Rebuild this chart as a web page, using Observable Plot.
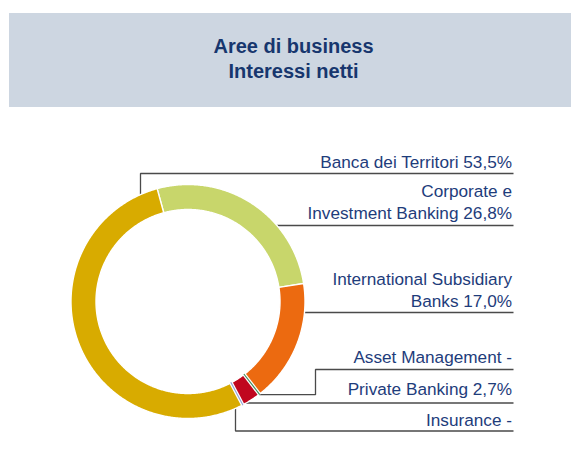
<!DOCTYPE html>
<html>
<head>
<meta charset="utf-8">
<script src="https://cdn.jsdelivr.net/npm/d3@7"></script>
<script src="https://cdn.jsdelivr.net/npm/@observablehq/plot@0.6"></script>
<style>
  html, body { margin: 0; padding: 0; background: #ffffff; }
  #title {
    margin: 13px 0 0 9px;
    height: 94px;
    box-sizing: border-box;
    padding: 20.5px 0 0 7px;
    background: #cdd6e1;
    color: #17366e;
    font: bold 20px "Liberation Sans", Arial, sans-serif;
    line-height: 25px;
    text-align: center;
  }
  #chart svg { display: block; }
</style>
</head>
<body>
<div id="title"><div>Aree di business</div><div>Interessi netti</div></div>
<div id="chart"></div>
<script>
// ---- data (clockwise order, starting with Corporate) ----
const categories = [
  "Corporate e Investment Banking",
  "International Subsidiary Banks",
  "Asset Management",
  "Private Banking",
  "Insurance",
  "Banca dei Territori"
];
const shares = [26.8, 17.0, 0, 2.7, 0, 53.5];
const labelTexts = [
  "Corporate e\nInvestment Banking 26,8%",
  "International Subsidiary\nBanks 17,0%",
  "Asset Management -",
  "Private Banking 2,7%",
  "Insurance -",
  "Banca dei Territori 53,5%"
];
const palette = ["#c8d66b", "#ec6a10", "#3f8a58", "#c0061e", "#8fa2d6", "#d8ab00"];

// ---- layout ----
const W = 571, H = 354;
const cx = 187.5, cy = 194, R = 117, r = 92;
const startDeg = -15.3;
const labelRight = 511.5, lineRight = 513;
// per label: baseline y, leader row y, leader style
const layout = [
  {base: 111, row: 118, kind: "right"},
  {base: 199, row: 205, kind: "right"},
  {base: 255.5, row: 262, kind: "elbow", elbowX: 315},
  {base: 287.5, row: 295.5, kind: "right"},
  {base: 318, row: 323.5, kind: "down", ax: 235},
  {base: 60.5, row: 66, kind: "up", ax: 140}
];

const rad = d => d * Math.PI / 180;
const pt = (deg, rho) => [cx + rho * Math.sin(rad(deg)), cy - rho * Math.cos(rad(deg))];

// cumulative angles
const total = d3.sum(shares);
let acc = startDeg;
const slices = categories.map((c, i) => {
  const a0 = acc, a1 = acc + shares[i] / total * 360;
  acc = a1;
  return {category: c, a0, a1, value: shares[i]};
});

// polygon points for non-zero slices
const poly = [];
slices.filter(s => s.value > 0).forEach(s => {
  const n = Math.max(2, Math.ceil((s.a1 - s.a0) / 0.5));
  for (let k = 0; k <= n; k++) {
    const a = s.a0 + (s.a1 - s.a0) * k / n;
    const [x, y] = pt(a, R);
    poly.push({category: s.category, x, y});
  }
  for (let k = n; k >= 0; k--) {
    const a = s.a0 + (s.a1 - s.a0) * k / n;
    const [x, y] = pt(a, r);
    poly.push({category: s.category, x, y});
  }
});

// zero-width slices drawn as radial strokes
const zeroLines = slices.filter(s => s.value === 0).map(s => {
  const [x1, y1] = pt(s.a0, r - 0.5), [x2, y2] = pt(s.a0, R + 0.5);
  return {category: s.category, x1, y1, x2, y2};
});

// leader lines
const leaders = [];
slices.forEach((s, i) => {
  const L = layout[i];
  let pts;
  if (L.kind === "right") {
    const dx = Math.sqrt(Math.max(0, R * R - (L.row - cy) ** 2));
    pts = [[cx + dx - 2, L.row], [lineRight, L.row]];
  } else if (L.kind === "elbow") {
    const [ax, ay] = pt(s.a0, R);
    pts = [[ax, ay + 0.5], [L.elbowX, ay + 0.5], [L.elbowX, L.row], [lineRight, L.row]];
  } else if (L.kind === "down") {
    const ay = cy + Math.sqrt(R * R - (L.ax - cx) ** 2);
    pts = [[L.ax, ay - 2], [L.ax, L.row], [lineRight, L.row]];
  } else {
    const ay = cy - Math.sqrt(R * R - (L.ax - cx) ** 2);
    pts = [[L.ax, ay + 2], [L.ax, L.row], [lineRight, L.row]];
  }
  pts.forEach(([x, y]) => leaders.push({category: s.category, x, y}));
});

const labels = slices.map((s, i) => ({category: s.category, text: labelTexts[i], x: labelRight, y: layout[i].base}));

const font = '"Liberation Sans", Arial, sans-serif';

const chart = Plot.plot({
  width: W,
  height: H,
  margin: 0,
  style: {fontFamily: font, background: "#ffffff"},
  x: {domain: [0, W], range: [0, W], axis: null},
  y: {domain: [0, H], range: [0, H], axis: null},
  color: {domain: categories, range: palette},
  marks: [
    Plot.line(leaders, {x: "x", y: "y", z: "category", stroke: "#4a4a4a", strokeWidth: 1.3, strokeLinejoin: "miter", strokeLinecap: "butt"}),
    Plot.line(poly, {x: "x", y: "y", z: "category", fill: "category", stroke: "#ffffff", strokeWidth: 1.4, curve: "linear-closed"}),
    Plot.link(zeroLines, {x1: "x1", y1: "y1", x2: "x2", y2: "y2", stroke: "#ffffff", strokeWidth: 3.6}),
    Plot.link(zeroLines, {x1: "x1", y1: "y1", x2: "x2", y2: "y2", stroke: "category", strokeWidth: 1.1}),
    Plot.text(labels, {x: "x", y: "y", text: "text", textAnchor: "end", lineAnchor: "bottom", lineHeight: 1.27, fontSize: 17.2, fill: "#1e3c7b"})
  ]
});
document.getElementById("chart").appendChild(chart);
</script>
</body>
</html>
